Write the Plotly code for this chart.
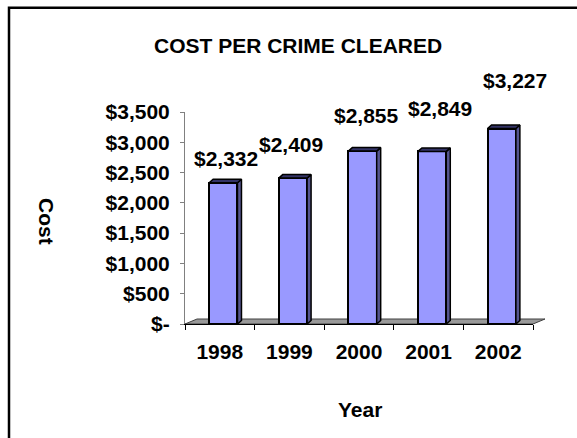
import plotly.graph_objects as go

# Cost per crime cleared, by year
years = ["1998", "1999", "2000", "2001", "2002"]
costs = [2332, 2409, 2855, 2849, 3227]
value_labels = ["$2,332", "$2,409", "$2,855", "$2,849", "$3,227"]
y_tick_values = [0, 500, 1000, 1500, 2000, 2500, 3000, 3500]
y_tick_labels = ["$-", "$500", "$1,000", "$1,500", "$2,000", "$2,500", "$3,000", "$3,500"]

W, H = 577, 438
M_L, M_R, M_T, M_B = 185, 44, 112, 114
PLOT_W = W - M_L - M_R
PLOT_H = H - M_T - M_B
Y_MAX = 3500

FONT = "Liberation Sans, Arial, sans-serif"
FRONT = "#9999FF"
SIDE = "#55558F"
TOP = "#333366"

n = len(years)
idx = list(range(n))
px_per_cat = PLOT_W / n
px_per_unit = PLOT_H / Y_MAX

# column geometry (category units) and pseudo-3D depth (pixels)
bar_w = 0.407
bar_off = -0.153
depth_dx = 4 / px_per_cat
depth_dy = 3.5 / px_per_unit

fig = go.Figure()

# front faces of the columns
fig.add_trace(go.Bar(
    x=idx, y=costs, width=bar_w, offset=bar_off,
    marker=dict(color=FRONT, line=dict(color="black", width=2)),
    hoverinfo="skip", showlegend=False,
))

# side and top faces built from each column's value
side_x, side_y, top_x, top_y = [], [], [], []
for i, v in zip(idx, costs):
    x0 = i + bar_off
    x1 = x0 + bar_w
    side_x += [x1, x1, x1 + depth_dx, x1 + depth_dx, x1, None]
    side_y += [0, v, v + depth_dy, depth_dy, 0, None]
    top_x += [x0, x1, x1 + depth_dx, x0 + depth_dx, x0, None]
    top_y += [v, v, v + depth_dy, v + depth_dy, v, None]

fig.add_trace(go.Scatter(
    x=side_x, y=side_y, mode="lines", fill="toself", fillcolor=SIDE,
    line=dict(color="black", width=1.5), hoverinfo="skip", showlegend=False,
))
fig.add_trace(go.Scatter(
    x=top_x, y=top_y, mode="lines", fill="toself", fillcolor=TOP,
    line=dict(color="black", width=1.5), hoverinfo="skip", showlegend=False,
))

# value labels above the columns
label_shift = [(6, 24), (1.5, 34), (7.5, 36), (11.5, 43), (16.5, 48.5)]
for i, v, txt, (dx, dy) in zip(idx, costs, value_labels, label_shift):
    fig.add_annotation(
        x=i, y=v, text=txt, showarrow=False, xanchor="center", yanchor="middle",
        xshift=dx, yshift=dy, font=dict(family=FONT, size=21, color="black", weight="bold"),
    )

# floor of the chart (paper coordinates, so it is not clipped)
fdx = 12 / PLOT_W
fdy = 5 / PLOT_H
floor_path = f"M 0 0 L 1 0 L {1 + fdx} {fdy} L {fdx} {fdy} Z"
fig.add_shape(type="path", path=floor_path, xref="paper", yref="paper",
              fillcolor="#999999", line=dict(color="#404040", width=1), layer="below")


def px_to_paper_x(p):
    return (p - M_L) / PLOT_W


def px_to_paper_y(p):
    return (H - M_B - p) / PLOT_H


# outer frame of the chart
fig.add_shape(type="rect", xref="paper", yref="paper",
              x0=px_to_paper_x(9), x1=px_to_paper_x(W + 20),
              y0=px_to_paper_y(H + 20), y1=px_to_paper_y(7.7),
              line=dict(color="black", width=2.5), fillcolor="rgba(0,0,0,0)", layer="below")

# axis titles and chart title
fig.add_annotation(
    text="Cost", xref="paper", yref="paper", x=px_to_paper_x(47), y=px_to_paper_y(221),
    textangle=90, showarrow=False, xanchor="center", yanchor="middle",
    font=dict(family=FONT, size=21, color="black", weight="bold"),
)
fig.add_annotation(
    text="Year", xref="paper", yref="paper", x=px_to_paper_x(360), y=px_to_paper_y(409),
    showarrow=False, xanchor="center", yanchor="middle",
    font=dict(family=FONT, size=21, color="black", weight="bold"),
)
fig.add_annotation(
    text="COST PER CRIME CLEARED", xref="paper", yref="paper",
    x=px_to_paper_x(298), y=px_to_paper_y(46), showarrow=False,
    xanchor="center", yanchor="middle",
    font=dict(family=FONT, size=21, color="black", weight="bold"),
)

fig.update_layout(
    width=W, height=H, autosize=False,
    margin=dict(l=M_L, r=M_R, t=M_T, b=M_B, pad=0),
    paper_bgcolor="white", plot_bgcolor="rgba(0,0,0,0)",
    showlegend=False, bargap=0,
    xaxis=dict(
        range=[-0.5, n - 0.5], tickvals=idx, ticktext=years,
        showgrid=False, zeroline=False, showline=True, linecolor="black", linewidth=1,
        ticks="", ticklabelstandoff=9,
        minor=dict(tickvals=[i - 0.5 for i in range(n + 1)], ticks="outside",
                   ticklen=5, tickcolor="black", tickwidth=1, showgrid=False),
        tickfont=dict(family=FONT, size=21, color="black", weight="bold"),
        fixedrange=True,
    ),
    yaxis=dict(
        range=[0, Y_MAX], tickvals=y_tick_values, ticktext=y_tick_labels,
        showgrid=False, zeroline=False, showline=True, linecolor="#808080", linewidth=1,
        ticks="outside", ticklen=4, tickcolor="#808080", tickwidth=1,
        ticklabelstandoff=6,
        tickfont=dict(family=FONT, size=21, color="black", weight="bold"),
        fixedrange=True,
    ),
)

fig.write_html("out.html")
